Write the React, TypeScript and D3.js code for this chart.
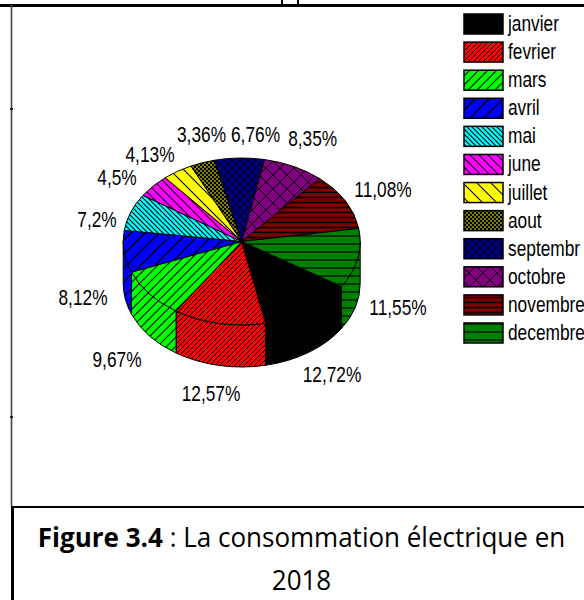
import React from "react";
import * as d3 from "d3";

const months = ["janvier","fevrier","mars","avril","mai","june","juillet","aout","septembr","octobre","novembre","decembre"];
const shares = [12.72,12.57,9.67,8.12,7.2,4.5,4.13,3.36,6.76,8.35,11.08,11.55];
const shareLabels = ["12,72%","12,57%","9,67%","8,12%","7,2%","4,5%","4,13%","3,36%","6,76%","8,35%","11,08%","11,55%"];
const colors = ["#000000","#ff0000","#00ff00","#0000ff","#00ffff","#ff00ff","#ffff00","#808000","#000080","#800080","#800000","#008000"];
const labelPos: [number,number][] = [[332,382],[211,401],[117,367],[83,305],[97,227],[117,185],[150,162],[201.5,142],[255.5,142],[312.7,146],[383,197],[398,315]];

const cx = 241.7, cy = 241.5, rx = 118.5, ry = 83.5, depth = 42;
const pX = d3.scaleLinear().domain([-1,1]).range([cx-rx,cx+rx]);
const pY = d3.scaleLinear().domain([-1,1]).range([cy-ry,cy+ry]);
// angle measured clockwise from east
const start = (32.6*Math.PI)/180;
const arcs = d3.pie<number>().sort(null).startAngle(start).endAngle(start+2*Math.PI)(shares);
const px = (a:number)=>pX(Math.cos(a));
const py = (a:number)=>pY(Math.sin(a));

function top(a0:number,a1:number){
  const large = a1-a0>Math.PI?1:0;
  return `M${cx},${cy}L${px(a0)},${py(a0)}A${rx},${ry} 0 ${large} 1 ${px(a1)},${py(a1)}Z`;
}
function wall(a0:number,a1:number){
  return `M${px(a0)},${py(a0)}A${rx},${ry} 0 0 1 ${px(a1)},${py(a1)}L${px(a1)},${py(a1)+depth}A${rx},${ry} 0 0 0 ${px(a0)},${py(a0)+depth}Z`;
}

type Hatch = {size:number; kind:string; sw:number};
const hatches: Hatch[] = [
  {size:0,kind:"none",sw:0},
  {size:5,kind:"up",sw:1},
  {size:9,kind:"up",sw:1.1},
  {size:14,kind:"up",sw:1.3},
  {size:5,kind:"down",sw:1.1},
  {size:9,kind:"down",sw:1.1},
  {size:14,kind:"down",sw:1.1},
  {size:4,kind:"check",sw:1},
  {size:8,kind:"cross",sw:1},
  {size:14,kind:"cross",sw:1},
  {size:5,kind:"h",sw:1.5},
  {size:8,kind:"h",sw:1.2},
];

function Pattern({i}:{i:number}){
  const h = hatches[i];
  const s = h.size;
  if(h.kind==="none") return null;
  let d = "";
  if(h.kind==="up") d=`M0,${s}L${s},0M${-s},${s}L${s},${-s}M0,${2*s}L${2*s},0`;
  if(h.kind==="down") d=`M0,0L${s},${s}M${-s},0L${s},${2*s}M0,${-s}L${2*s},${s}`;
  if(h.kind==="cross") d=`M0,${s}L${s},0M0,0L${s},${s}`;
  if(h.kind==="h") d=`M0,${s/2}L${s},${s/2}`;
  return (
    <pattern id={`p${i}`} patternUnits="userSpaceOnUse" width={s} height={s}>
      <rect width={s} height={s} fill={colors[i]}/>
      {h.kind==="check"
        ? <g fill="#000"><rect width={s/2} height={s/2}/><rect x={s/2} y={s/2} width={s/2} height={s/2}/></g>
        : <path d={d} stroke="#000" strokeWidth={h.sw} fill="none"/>}
    </pattern>
  );
}
const fillOf = (i:number)=> hatches[i].kind==="none"?colors[i]:`url(#p${i})`;

const legendY = d3.scaleLinear().domain([0,11]).range([14,323]);
const font = "'Liberation Sans', Arial, sans-serif";
const title = "'Open Sans', sans-serif";

export default function App(){
  const walls = arcs.map((d,i)=>{
    const lo = d.startAngle, hi = d.endAngle;
    const segs:[number,number][] = [];
    for(const k of [0,2]){
      const a = Math.max(lo,k*Math.PI), b = Math.min(hi,k*Math.PI+Math.PI);
      if(b>a) segs.push([a,b]);
    }
    return segs.map((s,j)=><path key={`${i}-${j}`} d={wall(s[0],s[1])} fill={fillOf(i)} stroke="#000" strokeWidth={1}/>);
  });
  return (
    <svg width={584} height={600} style={{position:"absolute",left:0,top:0}}>
      <defs>{colors.map((_,i)=><Pattern key={i} i={i}/>)}</defs>
      <rect width={584} height={600} fill="#fff"/>
      <g stroke="#000" fill="none">
        <path d="M0,5.5H584" strokeWidth={3}/>
        <path d="M282,0V5M298,0V5" strokeWidth={2}/>
        <path d="M11.5,5V506" strokeWidth={1.6} stroke="#444"/>
        <path d="M10,109H13M10,417H13" strokeWidth={1.5}/>
        <path d="M11,507H584" strokeWidth={2}/>
        <path d="M12.5,507V600" strokeWidth={3}/>
      </g>
      {walls}
      {arcs.map((d,i)=><path key={i} d={top(d.startAngle,d.endAngle)} fill={fillOf(i)} stroke="#000" strokeWidth={1}/>)}
      <g fontFamily={font} fontSize={17.3} fill="#000">
        {shareLabels.map((t,i)=>(
          <text key={i} textAnchor="middle" transform={`translate(${labelPos[i][0]},${labelPos[i][1]}) scale(1,1.27)`}>{t}</text>
        ))}
        {months.map((m,i)=>(
          <g key={m}>
            <rect x={464} y={legendY(i)} width={39} height={20} fill={fillOf(i)} stroke="#000" strokeWidth={1.5}/>
            <text transform={`translate(508,${legendY(i)+17}) scale(1,1.27)`}>{m}</text>
          </g>
        ))}
      </g>
      <g fontFamily={title} fontSize={27} textAnchor="middle" fill="#000">
        <text transform="translate(301.5,547) scale(0.963,1)"><tspan fontWeight={700}>Figure 3.4</tspan> : La consommation électrique en</text>
        <text transform="translate(301.5,590) scale(0.963,1)">2018</text>
      </g>
    </svg>
  );
}
